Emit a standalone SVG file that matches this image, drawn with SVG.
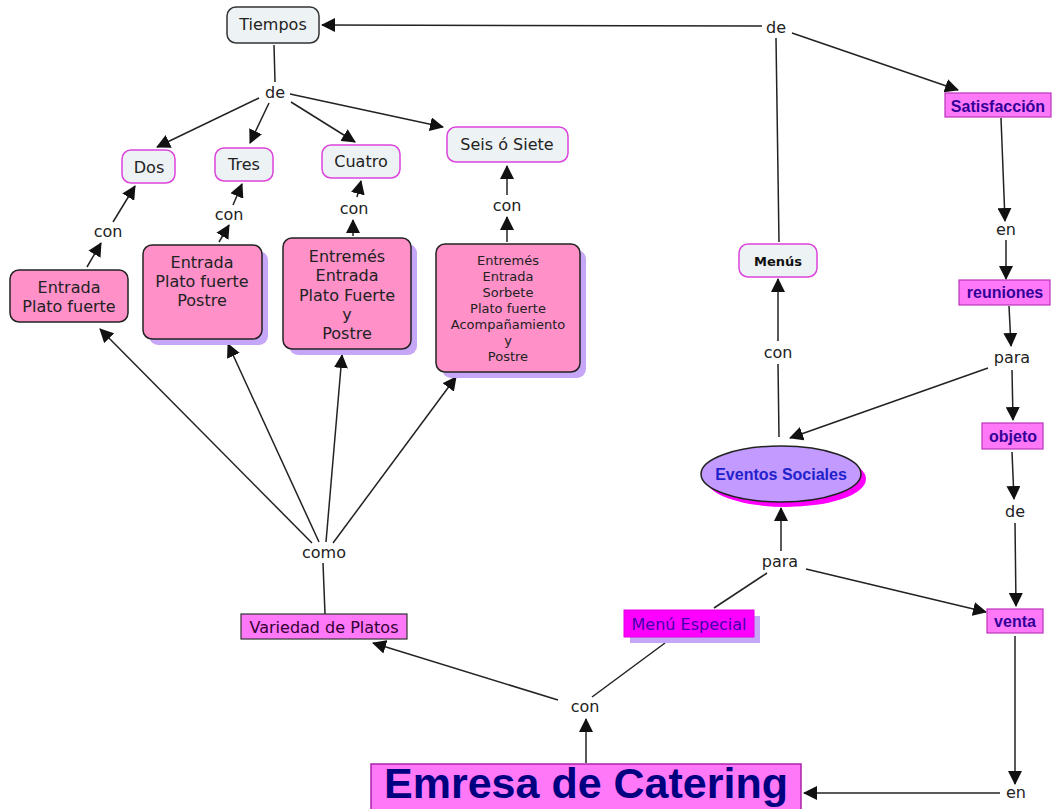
<svg xmlns="http://www.w3.org/2000/svg" width="1052" height="809" viewBox="0 0 1052 809">
<defs>
<marker id="ah" markerUnits="userSpaceOnUse" markerWidth="14" markerHeight="14" refX="13" refY="7" orient="auto">
<path d="M0,0 L14,7 L0,14 z" fill="#111"/>
</marker>
<style>
.ln{stroke:#222;stroke-width:1.5;fill:none}
.ar{stroke:#222;stroke-width:1.5;fill:none;marker-end:url(#ah)}
.t{font-family:"DejaVu Sans",Verdana,sans-serif;font-size:16px;fill:#222;text-anchor:middle;dominant-baseline:central}
.lp{font-family:"DejaVu Sans",Verdana,sans-serif;font-size:16px;fill:#222;text-anchor:middle;dominant-baseline:central}
.grey{fill:#edf2f4;stroke:#333;stroke-width:1.5}
.gm{fill:#edf2f4;stroke:#dd44dd;stroke-width:1.5}
.pink{fill:#ff90c8;stroke:#222;stroke-width:1.5}
.shd{fill:#c6a6f6}
.mag{fill:#ff78f8;stroke:#bb33bb;stroke-width:1.2}
.b{font-family:"Liberation Sans",Arial,sans-serif;font-weight:bold;font-size:16px;fill:#330099;text-anchor:middle;dominant-baseline:central}
</style>
</defs>
<rect width="1052" height="809" fill="#fff"/>

<g id="connectors">
<line class="ar" x1="762" y1="26" x2="322" y2="25"/>
<line class="ar" x1="792" y1="33" x2="958" y2="90"/>
<line class="ln" x1="779" y1="242" x2="776" y2="38"/>
<line class="ln" x1="274" y1="45" x2="275" y2="82"/>
<line class="ar" x1="259" y1="98" x2="157" y2="147"/>
<line class="ar" x1="269" y1="103" x2="250" y2="143"/>
<line class="ar" x1="291" y1="102" x2="355" y2="142"/>
<line class="ar" x1="290" y1="94" x2="443" y2="127"/>
<line class="ar" x1="87" y1="267" x2="101" y2="243"/>
<line class="ar" x1="113" y1="222" x2="135" y2="186"/>
<line class="ar" x1="219" y1="242" x2="229" y2="225"/>
<line class="ar" x1="233" y1="205" x2="242" y2="184"/>
<line class="ar" x1="353" y1="236" x2="353" y2="220"/>
<line class="ar" x1="357" y1="197" x2="361" y2="181"/>
<line class="ar" x1="507" y1="242" x2="507" y2="217"/>
<line class="ar" x1="507" y1="195" x2="507" y2="166"/>
<line class="ar" x1="312" y1="543" x2="100" y2="329"/>
<line class="ar" x1="319" y1="542" x2="228" y2="344"/>
<line class="ar" x1="326" y1="542" x2="342" y2="355"/>
<line class="ar" x1="333" y1="543" x2="456" y2="377"/>
<line class="ln" x1="323" y1="563" x2="325" y2="614"/>
<line class="ar" x1="558" y1="700" x2="373" y2="643"/>
<line class="ln" x1="592" y1="697" x2="665" y2="643"/>
<line class="ln" x1="714" y1="608" x2="767" y2="573"/>
<line class="ar" x1="586" y1="763" x2="586" y2="719"/>
<line class="ar" x1="781" y1="551" x2="781" y2="508"/>
<line class="ar" x1="806" y1="569" x2="986" y2="612"/>
<line class="ln" x1="779" y1="437" x2="778" y2="364"/>
<line class="ar" x1="778" y1="341" x2="778" y2="279"/>
<line class="ar" x1="1001" y1="118" x2="1005" y2="221"/>
<line class="ar" x1="1006" y1="240" x2="1006" y2="279"/>
<line class="ar" x1="1009" y1="306" x2="1011" y2="346"/>
<line class="ar" x1="988" y1="368" x2="790" y2="438"/>
<line class="ar" x1="1012" y1="370" x2="1013" y2="420"/>
<line class="ar" x1="1012" y1="452" x2="1014" y2="499"/>
<line class="ar" x1="1015" y1="523" x2="1016" y2="606"/>
<line class="ar" x1="1015" y1="636" x2="1015" y2="784"/>
<line class="ar" x1="1000" y1="793" x2="804" y2="793"/>
</g>

<g id="linking-phrases">
<text class="lp" x="776" y="27">de</text>
<text class="lp" x="275" y="92">de</text>
<text class="lp" x="108" y="231">con</text>
<text class="lp" x="229" y="214">con</text>
<text class="lp" x="354" y="208">con</text>
<text class="lp" x="507" y="205">con</text>
<text class="lp" x="324" y="552">como</text>
<text class="lp" x="585" y="706">con</text>
<text class="lp" x="780" y="561">para</text>
<text class="lp" x="778" y="352">con</text>
<text class="lp" x="1006" y="229">en</text>
<text class="lp" x="1012" y="357">para</text>
<text class="lp" x="1015" y="511">de</text>
<text class="lp" x="1016" y="792">en</text>
</g>

<g id="tiempos"><rect class="grey" x="227" y="7" width="92" height="36" rx="9"/><text class="t" x="273" y="24">Tiempos</text></g>
<g id="dos"><rect class="gm" x="122" y="150" width="53" height="33" rx="9"/><text class="t" x="149" y="167">Dos</text></g>
<g id="tres"><rect class="gm" x="215" y="148" width="58" height="33" rx="9"/><text class="t" x="244" y="164">Tres</text></g>
<g id="cuatro"><rect class="gm" x="322" y="145" width="78" height="33" rx="9"/><text class="t" x="361" y="161">Cuatro</text></g>
<g id="seis"><rect class="gm" x="447" y="127" width="121" height="35" rx="9"/><text class="t" x="507" y="144">Seis ó Siete</text></g>

<g id="box1"><rect class="pink" x="10" y="270" width="118" height="52" rx="9"/>
<text class="t" x="69" y="287">Entrada</text><text class="t" x="69" y="306">Plato fuerte</text></g>
<g id="box2"><rect class="shd" x="149" y="251" width="119" height="94" rx="9"/><rect class="pink" x="143" y="245" width="119" height="94" rx="9"/>
<text class="t" x="202" y="262">Entrada</text><text class="t" x="202" y="281">Plato fuerte</text><text class="t" x="202" y="300">Postre</text></g>
<g id="box3"><rect class="shd" x="289" y="244" width="128" height="111" rx="9"/><rect class="pink" x="283" y="238" width="128" height="111" rx="9"/>
<text class="t" x="347" y="256">Entremés</text><text class="t" x="347" y="275">Entrada</text><text class="t" x="347" y="295">Plato Fuerte</text><text class="t" x="347" y="314">y</text><text class="t" x="347" y="333">Postre</text></g>
<g id="box4"><rect class="shd" x="442" y="250" width="144" height="128" rx="9"/><rect class="pink" x="436" y="244" width="144" height="128" rx="9"/>
<text class="t" style="font-size:13px" x="508" y="260">Entremés</text><text class="t" style="font-size:13px" x="508" y="276">Entrada</text><text class="t" style="font-size:13px" x="508" y="292">Sorbete</text><text class="t" style="font-size:13px" x="508" y="308">Plato fuerte</text><text class="t" style="font-size:13px" x="508" y="324">Acompañamiento</text><text class="t" style="font-size:13px" x="508" y="340">y</text><text class="t" style="font-size:13px" x="508" y="356">Postre</text></g>

<g id="variedad"><rect fill="#ff78f8" stroke="#333" stroke-width="1.2" x="241" y="614" width="166" height="25"/><text class="t" style="fill:#330033" x="324" y="627">Variedad de Platos</text></g>
<g id="menu-especial"><rect class="shd" x="630" y="616" width="130" height="27"/><rect fill="#ff00ff" stroke="#e000e0" x="624" y="610" width="130" height="27"/><text class="t" style="fill:#4400aa" x="689" y="624">Menú Especial</text></g>
<g id="menus"><rect class="gm" x="739" y="244" width="78" height="33" rx="9"/><text class="t" style="font-weight:bold;font-size:13px;fill:#111" x="778" y="261">Menús</text></g>
<g id="eventos"><ellipse cx="786" cy="479" rx="80" ry="28" fill="#ff00ff"/><ellipse cx="781" cy="474" rx="80" ry="28" fill="#c39aff" stroke="#222" stroke-width="1.5"/><text class="b" style="fill:#2222cc" x="781" y="474">Eventos Sociales</text></g>
<g id="satisfaccion"><rect class="mag" x="945" y="93" width="106" height="24"/><text class="b" x="998" y="106">Satisfacción</text></g>
<g id="reuniones"><rect class="mag" x="959" y="280" width="91" height="25"/><text class="b" x="1005" y="292">reuniones</text></g>
<g id="objeto"><rect class="mag" x="982" y="423" width="61" height="26"/><text class="b" x="1013" y="436">objeto</text></g>
<g id="venta"><rect class="mag" x="987" y="609" width="56" height="24"/><text class="b" x="1015" y="621">venta</text></g>
<g id="emresa"><rect fill="#ff78f8" stroke="#aa22aa" stroke-width="1.5" x="371" y="764" width="430" height="46"/><text x="586" y="798" font-family="Liberation Sans, Arial, sans-serif" font-weight="bold" font-size="43" fill="#000080" text-anchor="middle">Emresa de Catering</text></g>
</svg>
